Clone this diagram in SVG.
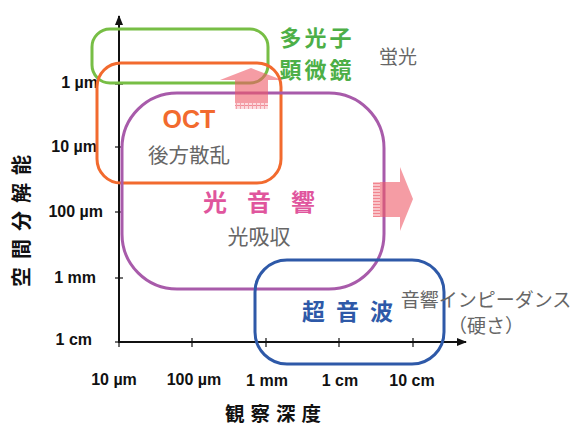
<svg xmlns="http://www.w3.org/2000/svg" width="574" height="427" viewBox="0 0 574 427">
<defs>
<style>
.ax{stroke:#111;stroke-width:2;fill:none}
.tk{stroke:#111;stroke-width:1.2}
.lab{font-family:"Liberation Sans",Arial,sans-serif;font-weight:bold;font-size:16px;fill:#111}
.jp{font-family:"Noto Sans CJK JP","Noto Sans",sans-serif}
.gray{fill:#666}
.box{fill:none;stroke-width:3}
.pk{fill:#EE5A68;opacity:0.6}
</style>
<marker id="ah" viewBox="0 0 10 10" refX="9" refY="5" markerWidth="5" markerHeight="5" orient="auto"><path d="M0,1 L10,5 L0,9 z" fill="#111"/></marker>
<pattern id="hs" width="4" height="3" patternUnits="userSpaceOnUse"><rect width="4" height="3" fill="#F8B8BE"/><rect width="4" height="1" fill="#EE6E7A"/></pattern>
<pattern id="vs" width="4" height="5" patternUnits="userSpaceOnUse"><rect width="4" height="5" fill="#FBD0D4"/><rect y="0" width="4" height="1" fill="#EE6E7A"/><rect x="0" width="1" height="5" fill="#EE8A94"/></pattern>
</defs>
<rect width="574" height="427" fill="#fff"/>

<g id="axes">
<line class="ax" x1="119" y1="343" x2="119" y2="16" marker-end="url(#ah)"/>
<line class="ax" x1="118" y1="342" x2="466" y2="342" marker-end="url(#ah)"/>
<line class="tk" x1="115" y1="84" x2="123" y2="84"/>
<line class="tk" x1="115" y1="147" x2="123" y2="147"/>
<line class="tk" x1="115" y1="212" x2="123" y2="212"/>
<line class="tk" x1="115" y1="278" x2="123" y2="278"/>
<line class="tk" x1="115" y1="342" x2="123" y2="342"/>
<line class="tk" x1="119" y1="338" x2="119" y2="347"/>
<line class="tk" x1="192" y1="338" x2="192" y2="347"/>
<line class="tk" x1="266" y1="338" x2="266" y2="347"/>
<line class="tk" x1="339" y1="338" x2="339" y2="347"/>
<line class="tk" x1="413" y1="338" x2="413" y2="347"/>
<text class="lab" x="98" y="88" text-anchor="end">1 µm</text>
<text class="lab" x="97" y="152" text-anchor="end">10 µm</text>
<text class="lab" x="103" y="217" text-anchor="end">100 µm</text>
<text class="lab" x="96" y="283" text-anchor="end">1 mm</text>
<text class="lab" x="92" y="345" text-anchor="end">1 cm</text>
<text class="lab" x="114" y="385" text-anchor="middle">10 µm</text>
<text class="lab" x="194" y="385" text-anchor="middle">100 µm</text>
<text class="lab" x="267" y="386" text-anchor="middle">1 mm</text>
<text class="lab" x="340" y="386" text-anchor="middle">1 cm</text>
<text class="lab" x="412" y="386" text-anchor="middle">10 cm</text>
<text class="jp" x="276" y="421" text-anchor="middle" font-size="19.5" font-weight="bold" fill="#111" letter-spacing="6">観察深度</text>
<text class="jp" transform="translate(29,217) rotate(-90)" text-anchor="middle" font-size="20" font-weight="bold" fill="#111" letter-spacing="8">空間分解能</text>
</g>

<g id="multiphoton">
<rect class="box" x="92" y="29" width="176" height="54" rx="18" stroke="#77BE45"/>
<text class="jp" x="317" y="46" text-anchor="middle" font-size="22" font-weight="bold" fill="#4DAF47" letter-spacing="3">多光子</text>
<text class="jp" x="317" y="78" text-anchor="middle" font-size="22" font-weight="bold" fill="#4DAF47" letter-spacing="3">顕微鏡</text>
<text class="jp gray" x="398" y="64" text-anchor="middle" font-size="19">蛍光</text>
</g>

<g id="oct">
<rect class="box" x="97" y="63" width="184" height="120" rx="24" stroke="#F26A2E"/>
<text x="189" y="128" text-anchor="middle" font-family="Liberation Sans,Arial,sans-serif" font-weight="bold" font-size="25" fill="#F26A2E">OCT</text>
<text class="jp gray" x="189" y="163" text-anchor="middle" font-size="20.5">後方散乱</text>
</g>

<g id="photoacoustic">
<rect class="box" x="122" y="93" width="262" height="196" rx="55" stroke="#A85BAA"/>
<text class="jp" x="269" y="211" text-anchor="middle" font-size="24" font-weight="bold" fill="#E0559D" letter-spacing="20">光音響</text>
<text class="jp gray" x="259" y="244" text-anchor="middle" font-size="21">光吸収</text>
</g>

<g id="ultrasound">
<rect class="box" x="255" y="260" width="189" height="104" rx="32" stroke="#2E59A8"/>
<text class="jp" x="353" y="320" text-anchor="middle" font-size="23" font-weight="bold" fill="#2E59A8" letter-spacing="11">超音波</text>
<text class="jp gray" x="486" y="307" text-anchor="middle" font-size="19">音響インピーダンス</text>
<text class="jp gray" x="486" y="333" text-anchor="middle" font-size="19">（硬さ）</text>
</g>

<g id="connectors">
<path class="pk" d="M235,103 L235,80 L220,80 L251,68 L282,80 L268,80 L268,103 z"/>
<rect x="235" y="103" width="33" height="6" fill="url(#vs)" opacity="0.8"/>
<path class="pk" d="M380,182 L400,182 L400,167 L413,199 L400,231 L400,217 L380,217 z"/>
<rect x="373" y="182" width="7" height="35" fill="url(#hs)" opacity="0.85"/>
</g>
</svg>
